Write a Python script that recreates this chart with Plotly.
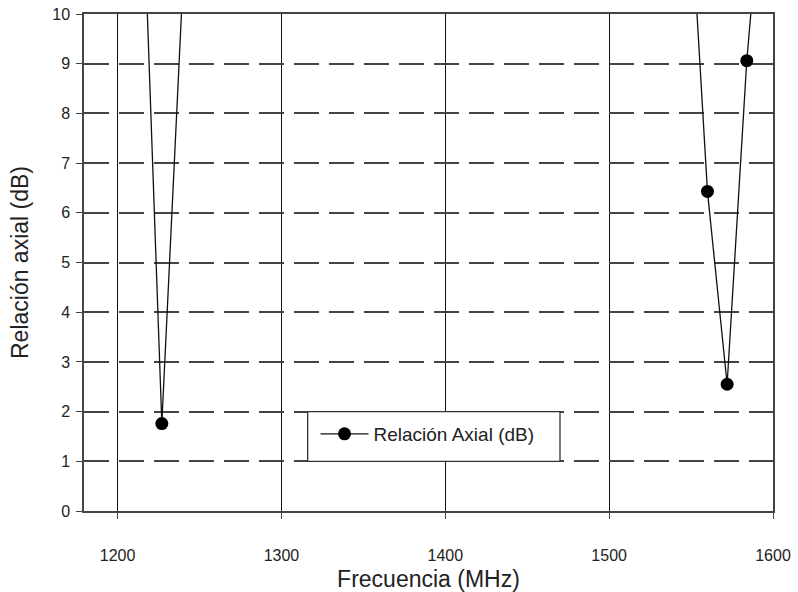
import plotly.graph_objects as go

# Data (points above 10 dB are clipped by the axis range)
freq_mhz = [1210, 1227, 1250, 1540, 1560, 1572, 1584, 1600]
axial_ratio_db = [17.6, 1.76, 17.6, 17.6, 6.43, 2.55, 9.06, 15.2]

x_ticks = [1200, 1300, 1400, 1500, 1600]
y_ticks = [0, 1, 2, 3, 4, 5, 6, 7, 8, 9, 10]

FONT = "Liberation Sans, Arial, sans-serif"

fig = go.Figure()
fig.add_trace(go.Scatter(
    x=freq_mhz, y=axial_ratio_db,
    mode="lines+markers",
    name="Relación Axial (dB)",
    line=dict(color="#111111", width=1.3),
    marker=dict(color="black", size=13),
))

fig.update_layout(
    width=798, height=592,
    margin=dict(l=84, r=25, t=14, b=81),
    plot_bgcolor="white", paper_bgcolor="white",
    font=dict(family=FONT, size=16, color="#222222"),
    showlegend=True,
    legend=dict(
        x=0.336, y=0.155, xanchor="left", yanchor="middle",
        bgcolor="rgba(0,0,0,0)", borderwidth=0,
        font=dict(family=FONT, size=19, color="#222222"),
        itemwidth=48,
    ),
    shapes=[dict(
        type="rect", xref="x", yref="y",
        x0=1316, x1=1470, y0=1.0, y1=2.0,
        line=dict(color="#333333", width=1.3),
        fillcolor="white", layer="above",
    )],
)

fig.update_xaxes(
    range=[1179.5, 1600],
    tickvals=x_ticks,
    automargin=False,
    showgrid=True, gridcolor="#111111", gridwidth=1.3,
    zeroline=False,
    showline=True, linecolor="#444444", linewidth=1.5, mirror=True,
    ticks="outside", ticklen=6, tickcolor="#444444", tickwidth=1.3,
    ticklabelstandoff=23,
    tickfont=dict(size=16),
    title=dict(text="Frecuencia (MHz)", font=dict(size=23), standoff=10),
)
fig.update_yaxes(
    range=[0, 10],
    tickvals=y_ticks,
    automargin=False,
    showgrid=True, gridcolor="#444444", gridwidth=1.5, griddash="25px,10px",
    zeroline=False,
    showline=True, linecolor="#444444", linewidth=1.5, mirror=True,
    ticks="outside", ticklen=6, tickcolor="#444444", tickwidth=1.3,
    ticklabelstandoff=3,
    tickfont=dict(size=16),
    title=dict(text="Relación axial (dB)", font=dict(size=23), standoff=17),
)

fig.write_html("out.html")
